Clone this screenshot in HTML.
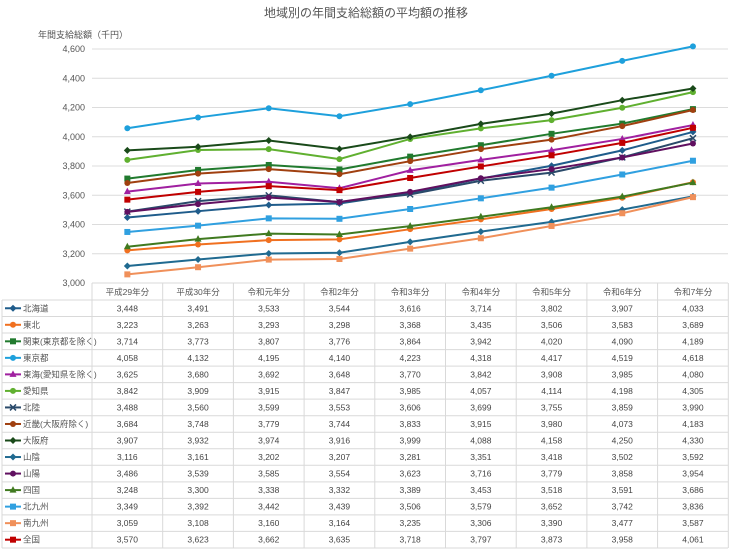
<!DOCTYPE html>
<html><head><meta charset="utf-8"><style>
body{margin:0;background:#fff;width:733px;height:550px;overflow:hidden;font-family:"Liberation Sans","Noto Sans CJK JP",sans-serif}
</style></head><body>
<svg id="s" width="733" height="550" xmlns="http://www.w3.org/2000/svg" font-family="Liberation Sans, Noto Sans CJK JP, sans-serif"></svg>
<script>
const S=document.getElementById('s');
const hdr=["平成29年分","平成30年分","令和元年分","令和2年分","令和3年分","令和4年分","令和5年分","令和6年分","令和7年分"];
const rows=[
["北海道","#1f5c8b","d",[3448,3491,3533,3544,3616,3714,3802,3907,4033]],
["東北","#f07020","c",[3223,3263,3293,3298,3368,3435,3506,3583,3689]],
["関東(東京都を除く)","#217a2e","s",[3714,3773,3807,3776,3864,3942,4020,4090,4189]],
["東京都","#1ea0dc","c",[4058,4132,4195,4140,4223,4318,4417,4519,4618]],
["東海(愛知県を除く)","#a020a0","t",[3625,3680,3692,3648,3770,3842,3908,3985,4080]],
["愛知県","#60b030","c",[3842,3909,3915,3847,3985,4057,4114,4198,4305]],
["北陸","#2a4a6a","x",[3488,3560,3599,3553,3606,3699,3755,3859,3990]],
["近畿(大阪府除く)","#a04010","c",[3684,3748,3779,3744,3833,3915,3980,4073,4183]],
["大阪府","#1a4a1a","d",[3907,3932,3974,3916,3999,4088,4158,4250,4330]],
["山陰","#206a90","d",[3116,3161,3202,3207,3281,3351,3418,3502,3592]],
["山陽","#601060","c",[3486,3539,3585,3554,3623,3716,3779,3858,3954]],
["四国","#407a20","t",[3248,3300,3338,3332,3389,3453,3518,3591,3686]],
["北九州","#30a0e0","s",[3349,3392,3442,3439,3506,3579,3652,3742,3836]],
["南九州","#f0905a","s",[3059,3108,3160,3164,3235,3306,3390,3477,3587]],
["全国","#c00000","s",[3570,3623,3662,3635,3718,3797,3873,3958,4061]]];
const X0=92,CW=70.7,Y=v=>283-(v-3000)*0.14625;
let h='';
h+=`<text x="366" y="17" font-size="12" fill="#555" text-anchor="middle">地域別の年間支給総額の平均額の推移</text>`;
h+=`<text x="38" y="38" font-size="9" fill="#555">年間支給総額（千円）</text>`;
for(let v=3000;v<=4600;v+=200){const y=Y(v);
 if(v>3000)h+=`<line x1="${X0}" x2="728" y1="${y}" y2="${y}" stroke="#dcdcdc"/>`;
 h+=`<text x="85" y="${y+3}" font-size="9" fill="#555" text-anchor="end">${v.toLocaleString('en')}</text>`;}
function mk(t,x,y,c){
 if(t=='s')return `<rect x="${x-3}" y="${y-3}" width="6" height="6" fill="${c}"/>`;
 if(t=='t')return `<polygon points="${x},${y-4} ${x-3.5},${y+2.5} ${x+3.5},${y+2.5}" fill="${c}"/>`;
 if(t=='x')return `<path d="M${x-3} ${y-3}L${x+3} ${y+3}M${x-3} ${y+3}L${x+3} ${y-3}" stroke="${c}" stroke-width="1.5"/>`;
 if(t=='d')return `<polygon points="${x},${y-3.5} ${x+3.5},${y} ${x},${y+3.5} ${x-3.5},${y}" fill="${c}"/>`;
 return `<circle cx="${x}" cy="${y}" r="3" fill="${c}"/>`;}
rows.forEach(r=>{const pts=r[3].map((v,i)=>[X0+CW*(i+.5),Y(v)]);
 h+=`<polyline fill="none" stroke="${r[1]}" stroke-width="2" points="${pts.map(p=>p.join(',')).join(' ')}"/>`;
 pts.forEach(p=>h+=mk(r[2],p[0],p[1],r[1]));});
// table
const T=283,HH=17,RH=16.53;
h+=`<g stroke="#d9d9d9" stroke-width="1" fill="none">`;
h+=`<line x1="${X0}" x2="728" y1="${T}" y2="${T}"/>`;
for(let i=0;i<=15;i++){const y=T+HH+i*RH;h+=`<line x1="2" x2="728" y1="${y}" y2="${y}"/>`;}
h+=`<line x1="2" x2="2" y1="${T+HH}" y2="548"/>`;
for(let i=0;i<=9;i++){const x=X0+i*CW;h+=`<line x1="${x}" x2="${x}" y1="${T}" y2="548"/>`;}
h+=`</g>`;
hdr.forEach((t,i)=>h+=`<text x="${X0+CW*(i+.5)}" y="${T+12}" font-size="8.5" fill="#555" text-anchor="middle">${t}</text>`);
rows.forEach((r,j)=>{const y=T+HH+j*RH+RH/2;
 h+=`<line x1="5" x2="21" y1="${y}" y2="${y}" stroke="${r[1]}" stroke-width="2"/>`+mk(r[2],13,y,r[1]);
 h+=`<text x="23" y="${y+3}" font-size="8.5" fill="#555">${r[0]}</text>`;
 r[3].forEach((v,i)=>h+=`<text x="${X0+CW*(i+.5)}" y="${y+3}" font-size="8.5" fill="#444" text-anchor="middle">${v.toLocaleString('en')}</text>`);});
S.innerHTML=h;
</script>
</body></html>
